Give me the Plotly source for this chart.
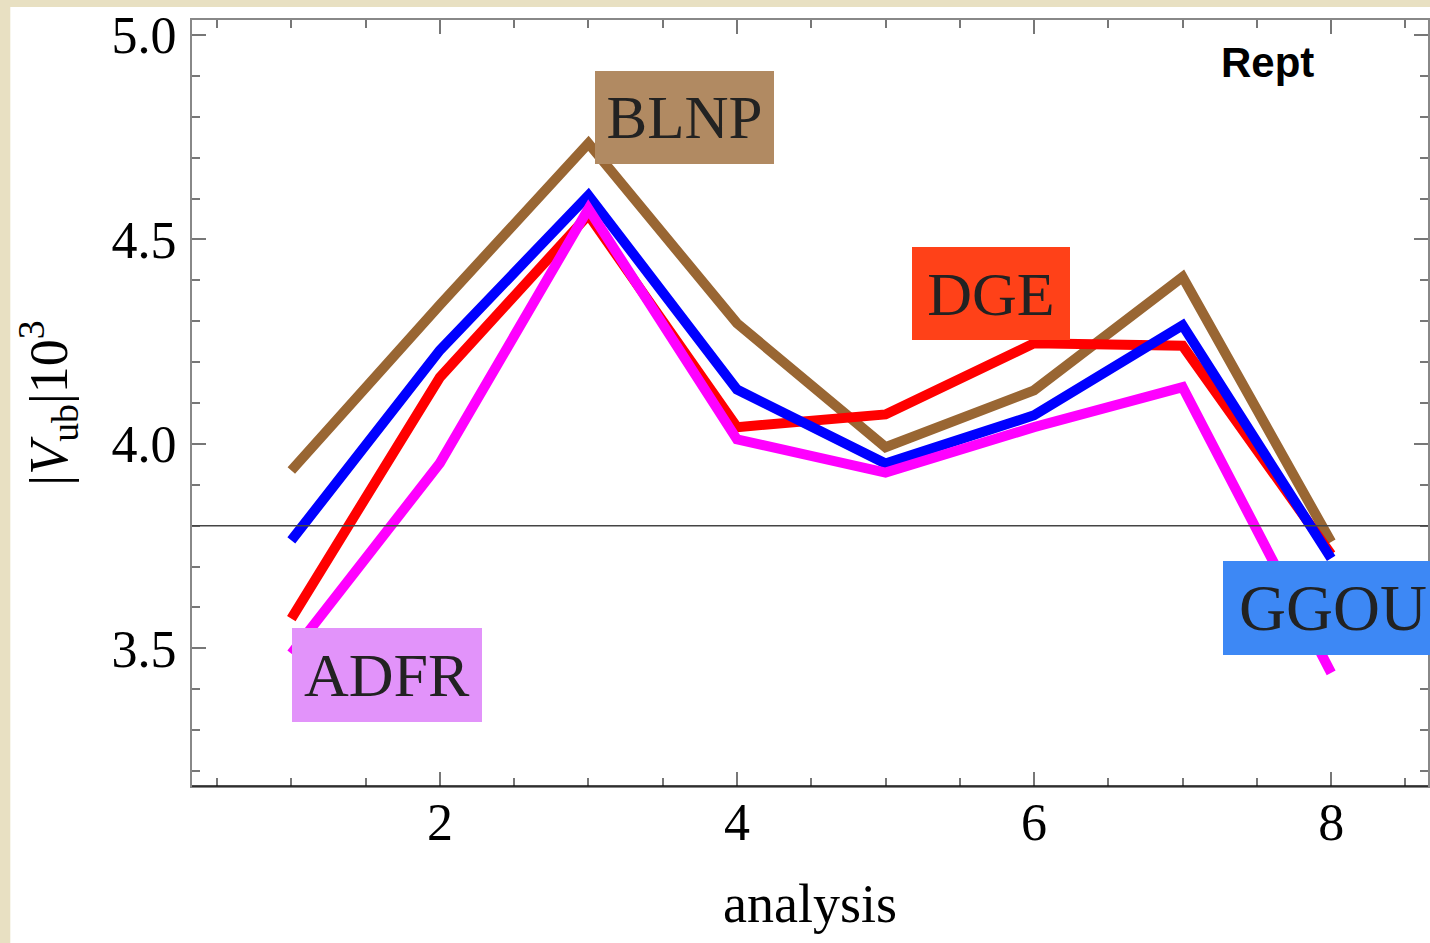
import plotly.graph_objects as go

# ---- data ----
analysis = [1, 2, 3, 4, 5, 6, 7, 8]
BLNP = [3.935, 4.34, 4.735, 4.295, 3.992, 4.131, 4.408, 3.76]
DGE = [3.573, 4.163, 4.56, 4.041, 4.072, 4.246, 4.240, 3.73]
GGOU = [3.764, 4.229, 4.608, 4.133, 3.952, 4.07, 4.290, 3.72]
ADFR = [3.487, 3.953, 4.575, 4.011, 3.930, 4.041, 4.139, 3.44]
reference_line = 3.8

series = [
    ("BLNP", BLNP, "#996633"),
    ("DGE", DGE, "#FF0000"),
    ("GGOU", GGOU, "#0000FF"),
    ("ADFR", ADFR, "#FF00FF"),
]

labels = [
    # text, x, y, box width, box height, bg color, font size
    ("BLNP", 3.650, 4.798, 179, 93, "#B18A62", 61),
    ("DGE", 5.710, 4.368, 158, 93, "#FF4118", 62),
    ("ADFR", 1.644, 3.435, 190, 94, "#E293FA", 62),
    ("GGOU", 8.01, 3.599, 220, 94, "#3D88F5", 65),
]

W, H = 1430, 943
ML, MR, MT, MB = 192, 0, 20, 157
PW, PH = W - ML - MR, H - MT - MB

fig = go.Figure()
for name, vals, col in series:
    fig.add_trace(go.Scatter(x=analysis, y=vals, mode="lines", name=name,
                             line=dict(color=col, width=10), showlegend=False))

# white page area with beige frame strip on left/top
fig.add_shape(type="rect", xref="paper", yref="paper",
              x0=(10 - ML) / PW, x1=1.1, y0=-(MB + 5) / PH, y1=(PH + MT - 7) / PH,
              fillcolor="white", line=dict(width=0), layer="below")

fig.add_shape(type="line", xref="paper", yref="y", x0=0, x1=1,
              y0=reference_line, y1=reference_line,
              line=dict(color="#444444", width=1.5))

# bottom frame darker
fig.add_shape(type="line", xref="paper", yref="paper", x0=0, x1=1, y0=0, y1=0,
              line=dict(color="#111111", width=1.5))

for text, x, y, w, h, bg, fs in labels:
    fig.add_annotation(x=x, y=y, xref="x", yref="y", text=text, showarrow=False,
                       width=w, height=h, bgcolor=bg, borderpad=0, borderwidth=0,
                       align="center", valign="middle",
                       font=dict(family="Liberation Serif", size=fs, color="#222222"))

fig.add_annotation(x=7.571, y=4.932, xref="x", yref="y", text="<b>Rept</b>",
                   showarrow=False, font=dict(family="Liberation Sans", size=42, color="black"))

axis_common = dict(
    showgrid=False, zeroline=False, showline=True, linecolor="#888888", linewidth=2,
    mirror="allticks", ticks="inside", ticklen=14, tickwidth=1.5, tickcolor="#777777",
    tickfont=dict(family="Liberation Serif", size=52, color="black"),
)

fig.update_xaxes(range=[0.3313, 8.652], tickmode="linear", tick0=0, dtick=2,
                 ticklabelstandoff=-10,
                 minor=dict(dtick=0.5, ticks="inside", ticklen=8, tickwidth=1.5, tickcolor="#777777"),
                 title=dict(text="analysis", font=dict(family="Liberation Serif", size=54, color="black"),
                            standoff=34),
                 **axis_common)
fig.update_yaxes(range=[3.1634, 5.0367], tickmode="linear", tick0=3.5, dtick=0.5,
                 tickformat=".1f", ticklabelstandoff=3,
                 minor=dict(dtick=0.1, ticks="inside", ticklen=8, tickwidth=1.5, tickcolor="#777777"),
                 title=dict(text="|<i>V</i><sub>ub</sub>|10<sup>3</sup>",
                            font=dict(family="Liberation Serif", size=54, color="black"),
                            standoff=27),
                 **axis_common)

fig.update_layout(width=W, height=H, margin=dict(l=ML, r=MR, t=MT, b=MB),
                  paper_bgcolor="#E8E0C2", plot_bgcolor="white")

fig.write_html("out.html")
